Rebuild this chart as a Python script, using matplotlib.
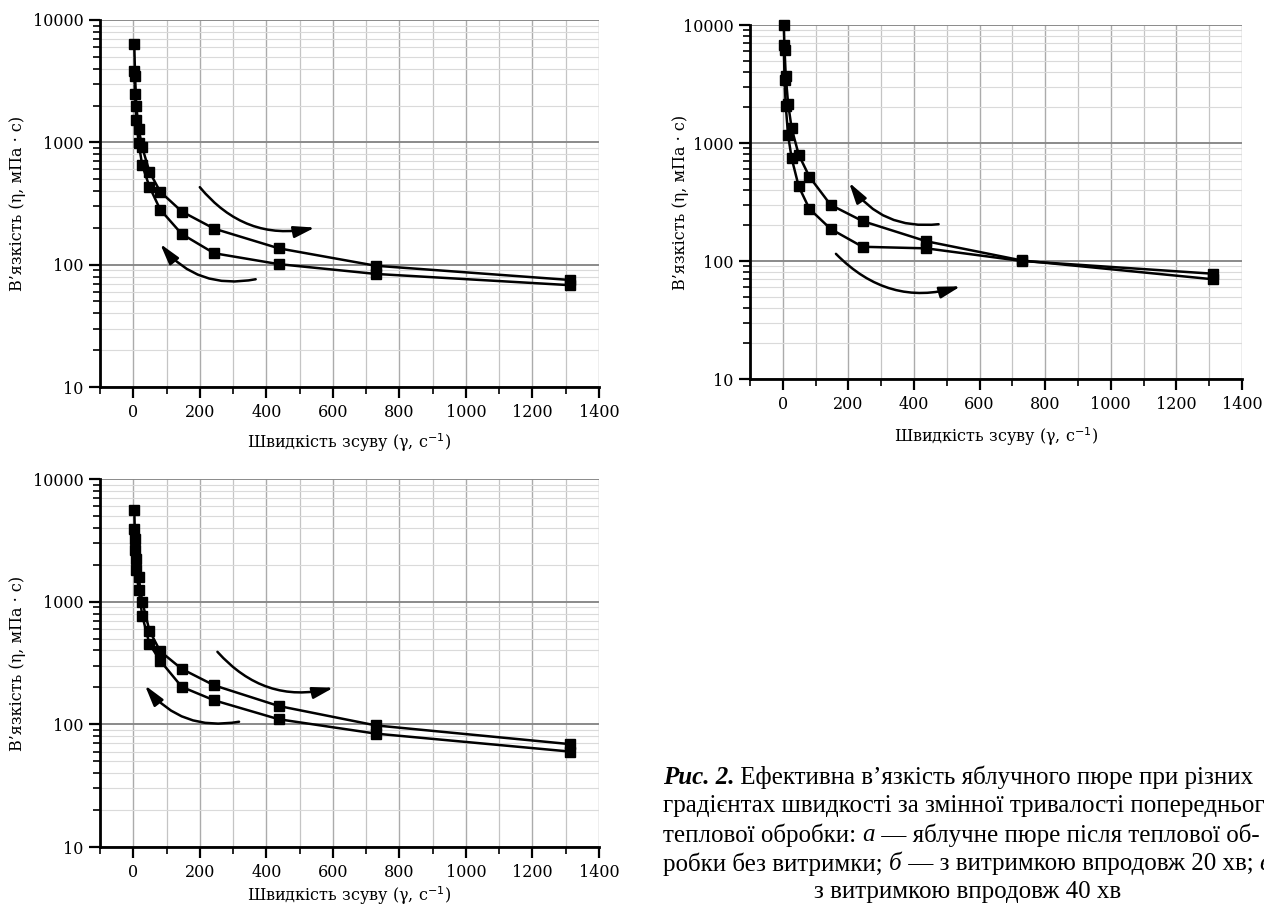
"""Effective viscosity of apple puree vs shear rate (three panels, log y)."""

import matplotlib
matplotlib.use("Agg")
import matplotlib.pyplot as plt
import matplotlib.transforms as mtransforms
from matplotlib.ticker import MultipleLocator, LogLocator, NullFormatter, FixedLocator

SERIF = ["DejaVu Serif"]
CAPTION_FONT = ["Liberation Serif", "DejaVu Serif"]

# shear rates, 1/s (same set for every panel)
RATES = [3, 5.4, 9, 16.2, 27, 48.6, 81, 145.8, 243, 437.4, 729, 1312]

# panel a: no holding time
A_UP = [6340, 3510, 2000, 1290, 910, 575, 395, 272, 197, 136, 98, 75]
A_DOWN = [3850, 2490, 1515, 980, 650, 434, 282, 178, 124, 101, 84, 68]
# panel b: 20 min holding
B_UP = [10000, 6110, 3700, 2150, 1330, 795, 518, 299, 218, 147, 101, 70]
B_DOWN = [6740, 3400, 2060, 1160, 743, 428, 277, 187, 132, 128, 100, 78]
# panel c: 40 min holding
C_UP = [5620, 3240, 2230, 1580, 1000, 581, 394, 283, 208, 141, 98, 69]
C_DOWN = [3910, 2640, 1810, 1245, 769, 452, 330, 202, 157, 110, 84, 60]

# direction arrows: (tail x, tail y, head x, head y, rad)
A_ARROWS = [(200, 430, 546, 201, 0.3), (368, 76, 81, 148, -0.3)]
B_ARROWS = [(475, 205, 202, 462, -0.3), (162, 115, 542, 61, 0.3)]
C_ARROWS = [(253, 390, 602, 199, 0.3), (318, 105, 35, 208, -0.3)]

XLABEL = "Швидкість зсуву (γ, с$^{-1}$)"
YLABEL = "В’язкість (η, мПа · с)"

W, H = 1264, 907


def frac(left, top, right, bottom):
    return [left / W, 1 - bottom / H, (right - left) / W, (bottom - top) / H]


def panel(fig, rect, up, down, arrows, ylab_dx, xlab_dy):
    ax = fig.add_axes(rect)
    ax.set_yscale("log")
    ax.set_xlim(-100, 1400)
    ax.set_ylim(10, 10000)

    ax.xaxis.set_major_locator(FixedLocator(range(0, 1401, 200)))
    ax.xaxis.set_minor_locator(MultipleLocator(100))
    ax.yaxis.set_minor_locator(LogLocator(base=10, subs=range(2, 10), numticks=20))
    ax.yaxis.set_minor_formatter(NullFormatter())
    ax.set_yticks([10, 100, 1000, 10000])
    ax.set_yticklabels(["10", "100", "1000", "10000"])

    ax.grid(which="major", axis="y", color="#8a8a8a", lw=1.4)
    ax.grid(which="minor", axis="y", color="#dadada", lw=0.8)
    ax.grid(which="major", axis="x", color="#ababab", lw=1.0)
    ax.grid(which="minor", axis="x", color="#c4c4c4", lw=0.9)
    ax.set_axisbelow(True)

    for s in ("top", "right"):
        ax.spines[s].set_visible(False)
    for s in ("left", "bottom"):
        ax.spines[s].set_linewidth(2.0)
        ax.spines[s].set_color("black")

    ax.tick_params(which="major", length=8, width=1.6, direction="out",
                   labelsize=11.5, pad=4)
    ax.tick_params(which="minor", length=5, width=1.2, direction="out")
    for lab in ax.get_xticklabels() + ax.get_yticklabels():
        lab.set_family(SERIF)

    for vals in (up, down):
        ax.plot(RATES, vals, "-", color="black", lw=1.8, marker="s",
                markersize=7.5, markerfacecolor="black", markeredgecolor="black",
                clip_on=False, zorder=3)

    for x0, y0, x1, y1, rad in arrows:
        ax.annotate("", xy=(x1, y1), xytext=(x0, y0),
                    arrowprops=dict(arrowstyle="-|>,head_length=0.9,head_width=0.25",
                                    color="black", lw=1.8,
                                    connectionstyle=f"arc3,rad={rad}",
                                    shrinkA=0, shrinkB=0, mutation_scale=14))

    bb_h = rect[3] * H
    bb_w = rect[2] * W
    ax.set_xlabel(XLABEL, family=SERIF, fontsize=11.5)
    ax.set_ylabel(YLABEL, family=SERIF, fontsize=11.5)
    ax.xaxis.label.set_va("center")
    ax.yaxis.label.set_va("center")
    ax.xaxis.set_label_coords(0.5, -xlab_dy / bb_h)
    ax.yaxis.set_label_coords(-ylab_dx / bb_w, 0.5)
    return ax


fig = plt.figure(figsize=(W / 100, H / 100), dpi=100)

panel(fig, frac(100, 20, 599, 387), A_UP, A_DOWN, A_ARROWS, 82, 56)
panel(fig, frac(750, 25, 1242, 379), B_UP, B_DOWN, B_ARROWS, 70, 58)
panel(fig, frac(100, 479, 599, 847), C_UP, C_DOWN, C_ARROWS, 82, 49)

# caption, written piece by piece so italic letters sit inline
CAPTION = [
    [("Рис. 2.", "italic", "bold"),
     (" Ефективна в’язкість яблучного пюре при різних", "normal", "normal")],
    [("градієнтах швидкості за змінної тривалості попереднього", "normal", "normal")],
    [("теплової обробки: ", "normal", "normal"), ("а", "italic", "normal"),
     (" — яблучне пюре після теплової об-", "normal", "normal")],
    [("робки без витримки; ", "normal", "normal"), ("б", "italic", "normal"),
     (" — з витримкою впродовж 20 хв; ", "normal", "normal"),
     ("в", "italic", "normal"), (" —", "normal", "normal")],
]
CAPTION_LAST = "з витримкою впродовж 40 хв"
CAPTION_ROWS = [777, 806, 835, 864]

renderer = fig.canvas.get_renderer()
ident = mtransforms.IdentityTransform()
cap_size = 18
for line, row in zip(CAPTION, CAPTION_ROWS):
    x = 663
    for txt, style, weight in line:
        t = fig.text(x, H - row, txt, transform=ident, family=CAPTION_FONT,
                     fontsize=cap_size, style=style, weight=weight, va="center")
        x = t.get_window_extent(renderer).x1
fig.text(968, H - 892, CAPTION_LAST, transform=ident, family=CAPTION_FONT,
         fontsize=cap_size, ha="center", va="center")

fig.savefig("out.png", dpi=100)
